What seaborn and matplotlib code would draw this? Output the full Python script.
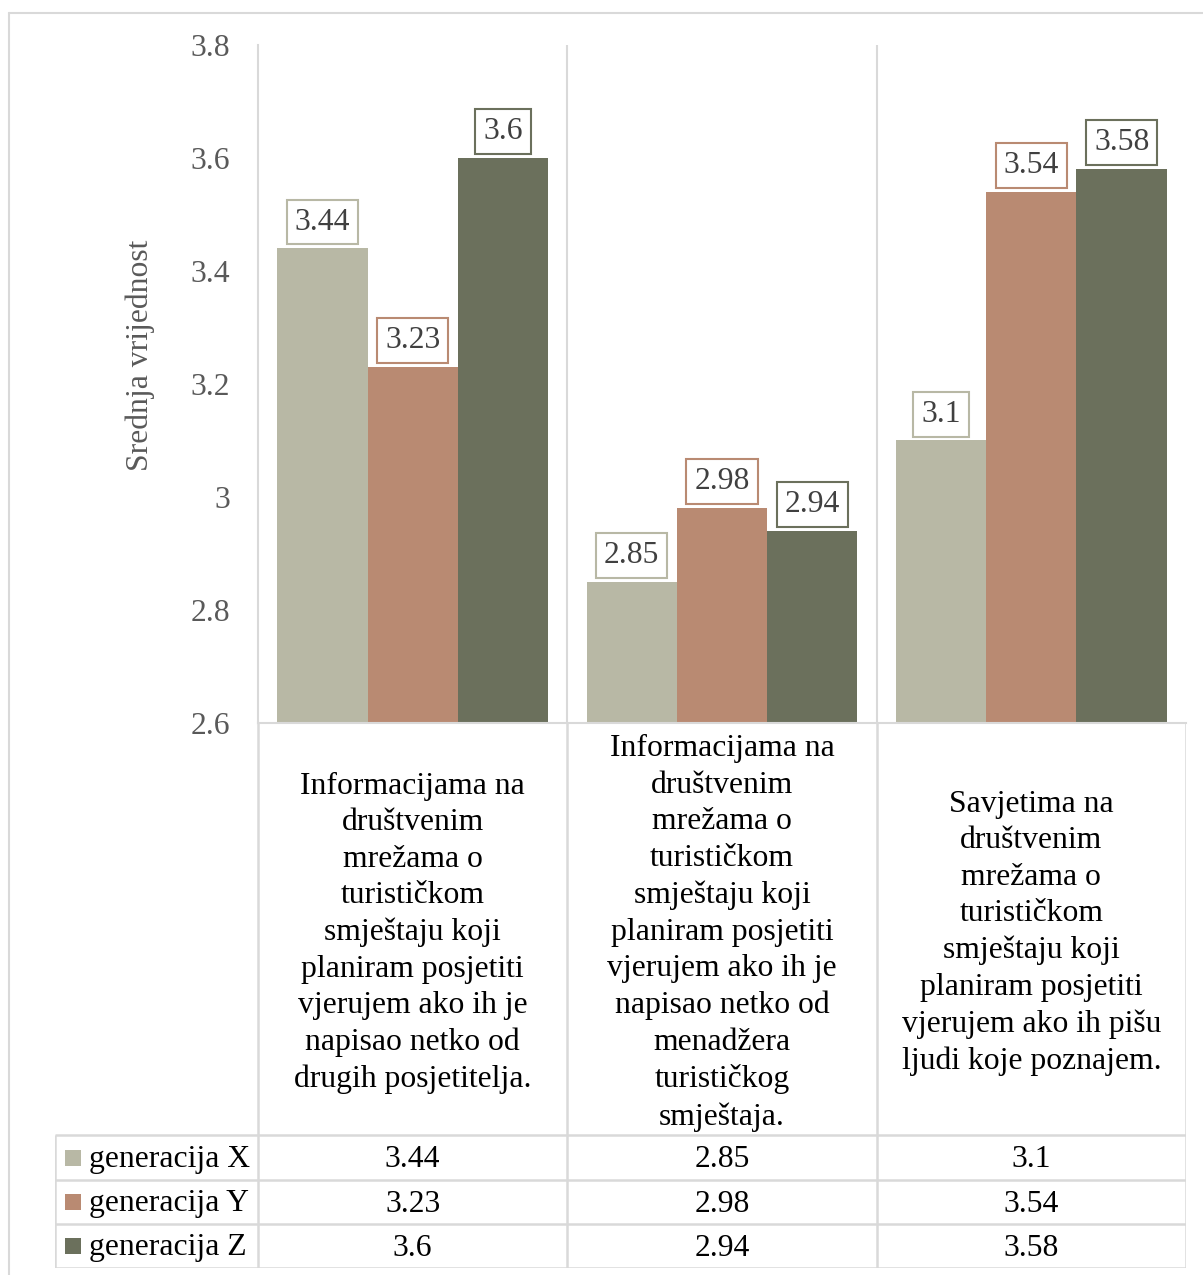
import matplotlib
matplotlib.use("Agg")
import matplotlib.pyplot as plt
import seaborn as sns
import pandas as pd
from matplotlib.lines import Line2D
from matplotlib.patches import Rectangle

categories = [
    "Informacijama na\ndruštvenim\nmrežama o\nturističkom\nsmještaju koji\nplaniram posjetiti\nvjerujem ako ih je\nnapisao netko od\ndrugih posjetitelja.",
    "Informacijama na\ndruštvenim\nmrežama o\nturističkom\nsmještaju koji\nplaniram posjetiti\nvjerujem ako ih je\nnapisao netko od\nmenadžera\nturističkog\nsmještaja.",
    "Savjetima na\ndruštvenim\nmrežama o\nturističkom\nsmještaju koji\nplaniram posjetiti\nvjerujem ako ih pišu\nljudi koje poznajem.",
]
series_names = ["generacija X", "generacija Y", "generacija Z"]
gen_x = [3.44, 2.85, 3.1]
gen_y = [3.23, 2.98, 3.54]
gen_z = [3.6, 2.94, 3.58]
value_labels = {"generacija X": ["3.44", "2.85", "3.1"],
                "generacija Y": ["3.23", "2.98", "3.54"],
                "generacija Z": ["3.6", "2.94", "3.58"]}
colors = ["#B8B8A5", "#B98A72", "#6B705C"]
y_ticks = [2.6, 2.8, 3.0, 3.2, 3.4, 3.6, 3.8]
y_tick_labels = ["2.6", "2.8", "3", "3.2", "3.4", "3.6", "3.8"]
y_label = "Srednja vrijednost"

sns.set_theme(style="white")
plt.rcParams["font.family"] = ["Liberation Serif", "DejaVu Serif"]

FS = 22.8
W, H = 1203, 1275
fig = plt.figure(figsize=(W / 100, H / 100), dpi=100)

def fx(px):
    return px / W

def fy(py):
    return 1 - py / H

# main axes
L, R, T, B = 258, 1186, 45, 723
ax = fig.add_axes([fx(L), fy(B), fx(R) - fx(L), fy(T) - fy(B)])

keys = [str(i) for i in range(len(categories))]
rows = []
for name, vals in zip(series_names, [gen_x, gen_y, gen_z]):
    for k, v in zip(keys, vals):
        rows.append({"cat": k, "series": name, "value": v})
df = pd.DataFrame(rows)

sns.barplot(data=df, x="cat", y="value", hue="series", hue_order=series_names,
            order=keys, palette=colors, width=0.876, saturation=1,
            edgecolor="none", linewidth=0, ax=ax, legend=False)

ax.set_ylim(2.6, 3.8)
ax.set_xlim(-0.5, len(categories) - 0.5)
ax.set_yticks(y_ticks)
ax.set_yticklabels(y_tick_labels)
ax.set_xticks([])
ax.set_xlabel("")
ax.set_ylabel(y_label, fontsize=FS, color="#595959")
ax.tick_params(axis="y", length=0, pad=20, labelsize=FS, labelcolor="#595959")
for s in ["top", "right"]:
    ax.spines[s].set_visible(False)
for s in ["left", "bottom"]:
    ax.spines[s].set_color("#D9D9D9")
    ax.spines[s].set_linewidth(1.5)
for xb in [0.5, 1.5]:
    ax.axvline(xb, color="#D9D9D9", lw=1.5, zorder=0)
ax.yaxis.set_label_coords(-0.111, 0.543)

# data labels
for cont, name, col in zip(ax.containers, series_names, colors):
    for bar, lab in zip(cont, value_labels[name]):
        xc = bar.get_x() + bar.get_width() / 2
        yt = bar.get_height() + bar.get_y()
        ax.annotate(lab, (xc, yt), xytext=(0, 19), textcoords="offset points",
                    ha="center", va="center", fontsize=FS, color="#404040",
                    bbox=dict(boxstyle="square,pad=0.25", fc="white", ec=col, lw=1.5),
                    annotation_clip=False)

# table axes
TL, TR, TT, TB = 55, 1186, 723, 1268
tax = fig.add_axes([fx(TL), fy(TB), fx(TR) - fx(TL), fy(TT) - fy(TB)])
left_w = (258 - 55) / ((R - L) / len(categories))
tax.set_xlim(-0.5 - left_w, len(categories) - 0.5)
tax.set_ylim(TB, TT)
tax.axis("off")
gc = "#D9D9D9"
for xb in [-0.5, 0.5, 1.5, 2.5]:
    tax.plot([xb, xb], [TT, TB], color=gc, lw=1.8, solid_capstyle="butt")
tax.plot([-0.5 - left_w] * 2, [1135, TB], color=gc, lw=1.8, solid_capstyle="butt")
row_lines = [1135, 1180, 1224, 1268]
for yl in row_lines:
    tax.plot([-0.5 - left_w, 2.5], [yl, yl], color=gc, lw=1.8, solid_capstyle="butt")

for i, c in enumerate(categories):
    tax.text(i, (TT + 1135) / 2 + 4, c, ha="center", va="center", fontsize=FS,
             color="#000000", linespacing=1.34)

row_centers = [(row_lines[j] + row_lines[j + 1]) / 2 for j in range(3)]
for j, (name, vals, col) in enumerate(zip(series_names, [gen_x, gen_y, gen_z], colors)):
    yc = row_centers[j]
    x0 = -0.5 - left_w + 10 / 309.3
    tax.add_patch(Rectangle((x0, yc - 8), 16 / 309.3, 16, color=col, lw=0))
    tax.text(-0.5 - left_w + 34 / 309.3, yc + 2, name, ha="left", va="center",
             fontsize=FS, color="#000000")
    for i, lab in enumerate(value_labels[name]):
        tax.text(i, yc + 2, lab, ha="center", va="center", fontsize=FS, color="#000000")

# outer border
fig.add_artist(Line2D([fx(9), fx(9)], [fy(13), 0], color=gc, lw=1.5))
fig.add_artist(Line2D([fx(9), 1], [fy(13), fy(13)], color=gc, lw=1.5))

fig.savefig("out.png", dpi=100)
